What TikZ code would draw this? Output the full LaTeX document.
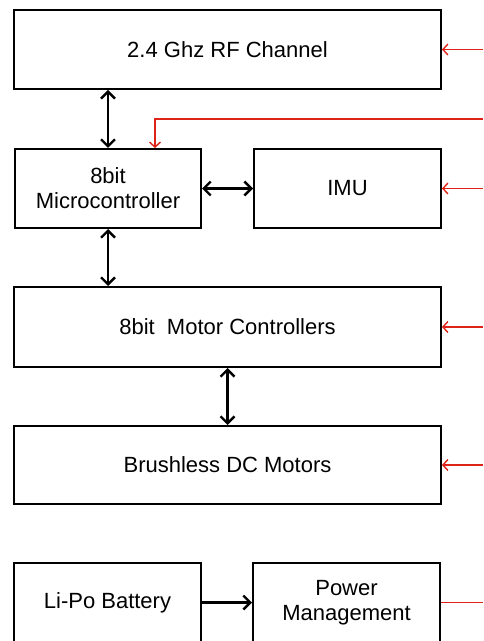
\documentclass[tikz,border=0pt]{standalone}
\usepackage{fontspec}
\setmainfont{Liberation Sans}
\usetikzlibrary{arrows.meta,calc,positioning}

\definecolor{railred}{RGB}{222,35,25}
\tikzset{
  blockbox/.style={draw, line width=1pt, align=center, inner sep=2pt,
    font=\fontsize{11}{12.5}\selectfont},
  link/.style={line width=1.2pt, {Straight Barb[length=3.5pt,width=7pt]}-{Straight Barb[length=3.5pt,width=7pt]}},
  feed/.style={line width=1.2pt, -{Straight Barb[length=3.5pt,width=7pt]}},
  supply/.style={railred, line width=0.7pt, -{Straight Barb[length=2.5pt,width=5.5pt]}}
}

\begin{document}
\begin{tikzpicture}[x=0.5pt, y=-0.5pt]
\useasboundingbox (0,0) rectangle (483,641);
\clip (0,0) rectangle (483,641);

% blocks
\node[blockbox, minimum width=213.5pt, minimum height=39.5pt] (rf) at (227.5,49.5) {2.4 Ghz RF Channel};
\node[blockbox, minimum width=93pt, minimum height=39.5pt] (mcu) at (108,188.5) {8bit\\Microcontroller};
\node[blockbox, minimum width=93.5pt, minimum height=39.5pt] (imu) at (347.5,188.5) {IMU};
\node[blockbox, minimum width=213.5pt, minimum height=40pt] (esc) at (227.5,327) {8bit~~Motor Controllers};
\node[blockbox, minimum width=213.5pt, minimum height=39pt] (motors) at (227.5,465) {Brushless DC Motors};
\node[blockbox, minimum width=93.5pt, minimum height=39.5pt] (lipo) at (107.5,602.5) {Li-Po Battery};
\node[blockbox, minimum width=93.5pt, minimum height=39.5pt] (pwr) at (346.5,602.5) {Power\\Management};

% data links
\draw[link] (mcu.north) -- (mcu.north |- rf.south);
\draw[link] (mcu.east) -- (imu.west);
\draw[link] (mcu.south) -- (mcu.south |- esc.north);
\draw[link] (esc.south) -- (motors.north);
\draw[feed] (lipo.east) -- (pwr.west);

% power rails
\coordinate (vrf) at (483,49.5);
\coordinate (vmcu) at (483,119);
\coordinate (vimu) at (483,188.5);
\coordinate (vesc) at (483,327);
\coordinate (vmot) at (483,465);
\coordinate (vout) at (483,602.5);
\draw[supply] (vrf) -- (rf.east);
\draw[supply] (vmcu) -| ($(mcu.north west)!0.75!(mcu.north east)$);
\draw[supply] (vimu) -- (imu.east);
\draw[supply] (vesc) -- (esc.east);
\draw[supply] (vmot) -- (motors.east);
\draw[supply, -] (pwr.east) -- (vout);
\end{tikzpicture}
\end{document}
